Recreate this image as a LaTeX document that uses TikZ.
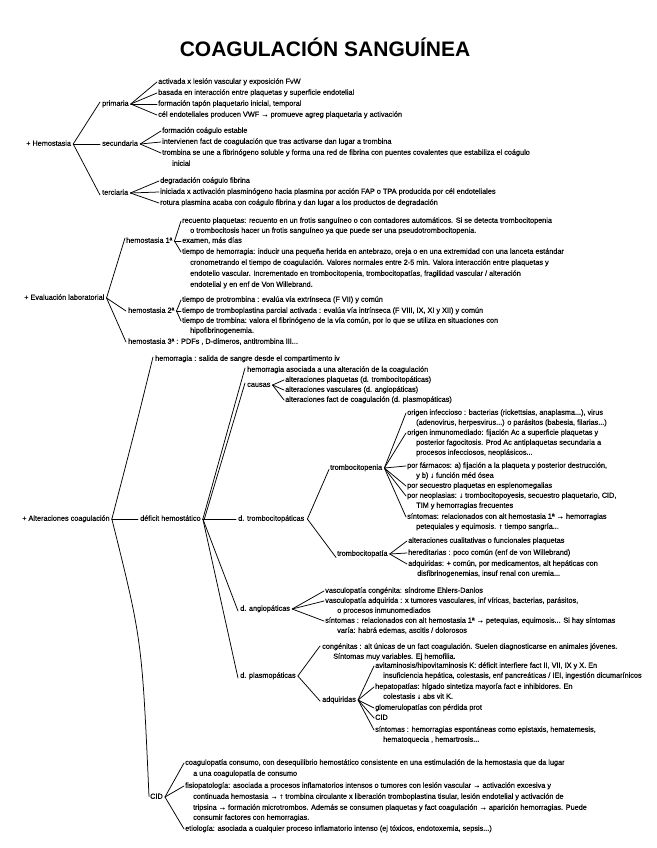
\documentclass[tikz,border=0pt]{standalone}
\usepackage{fontspec}
\setmainfont{Liberation Sans}
\newfontfamily\hw{Liberation Sans}[FakeBold=0.35]
\newcommand{\fs}{\hw\fontsize{7.3}{8.5}\selectfont}
\tikzset{
  tx/.style={anchor=west, inner sep=0pt, font=\fs, text height=5pt, text depth=1.5pt},
  ln/.style={line width=0.75pt, line cap=round},
}
\begin{document}
\begin{tikzpicture}[x=1pt,y=-1pt]
\useasboundingbox (0,0) rectangle (656,848);
\fill[white] (0,0) rectangle (656,848);
\node[font=\fontsize{21}{24}\selectfont\bfseries] (title) at (325,47) {COAGULACIÓN SANGUÍNEA};

% ---------------- Hemostasia
\node[tx] (hem) at (26,144) {+ Hemostasia};
\node[tx] (pri) at (102,104) {primaria};
\node[tx] (sec) at (102,144) {secundaria};
\node[tx] (ter) at (102,193) {terciaria};
\coordinate (vhem) at ([xshift=2pt]hem.east);
\draw[ln] (vhem) -- ([xshift=-2pt,yshift=2pt]pri.west);
\draw[ln] (vhem) -- ([xshift=-2pt]sec.west);
\draw[ln] (vhem) -- ([xshift=-2pt,yshift=-2pt]ter.west);

\node[tx] (p1) at (158,82) {activada x lesión vascular y exposición FvW};
\node[tx] (p2) at (158,93) {basada en interacción entre plaquetas y superficie endotelial};
\node[tx] (p3) at (158,104) {formación tapón plaquetario inicial, temporal};
\node[tx] (p4) at (158,115) {cél endoteliales producen VWF → promueve agreg plaquetaria y activación};
\coordinate (vpri) at ([xshift=2pt]pri.east);
\foreach \n in {p1,p2,p3,p4} \draw[ln] (vpri) -- ([xshift=-1pt]\n.west);

\node[tx] (s1) at (162,131) {formación coágulo estable};
\node[tx] (s2) at (162,142) {intervienen fact de coagulación que tras activarse dan lugar a trombina};
\node[tx] (s3) at (162,153) {trombina se une a fibrinógeno soluble y forma una red de fibrina con puentes covalentes que estabiliza el coágulo};
\node[tx] (s4) at (172,164) {inicial};
\coordinate (vsec) at ([xshift=2pt]sec.east);
\foreach \n in {s1,s2,s3} \draw[ln] (vsec) -- ([xshift=-1pt]\n.west);

\node[tx] (t1) at (160,181) {degradación coágulo fibrina};
\node[tx] (t2) at (160,192) {iniciada x activación plasminógeno hacia plasmina por acción FAP o TPA producida por cél endoteliales};
\node[tx] (t3) at (160,203) {rotura plasmina acaba con coágulo fibrina y dan lugar a los productos de degradación};
\coordinate (vter) at ([xshift=2pt]ter.east);
\foreach \n in {t1,t2,t3} \draw[ln] (vter) -- ([xshift=-1pt]\n.west);

% ---------------- Evaluación laboratorial
\node[tx] (eva) at (24,298) {+ Evaluación laboratorial};
\node[tx] (he1) at (126,241) {hemostasia 1ª};
\node[tx] (he2) at (128,311) {hemostasia 2ª};
\node[tx] (he3) at (128,342) {hemostasia 3ª : PDFs , D-dímeros, antitrombina III...};
\coordinate (veva) at ([xshift=2pt]eva.east);
\draw[ln] (veva) -- ([xshift=-1pt,yshift=3pt]he1.west);
\draw[ln] (veva) -- ([xshift=-2pt]he2.west);
\draw[ln] (veva) -- ([xshift=-2pt]he3.west);

\node[tx] (e1) at (182,221) {recuento plaquetas: recuento en un frotis sanguíneo o con contadores automáticos. Si se detecta trombocitopenia};
\node[tx] (e1b) at (190,231) {o trombocitosis hacer un frotis sanguíneo ya que puede ser una pseudotrombocitopenia.};
\node[tx] (e2) at (182,241) {examen, más días};
\node[tx] (e3) at (182,252) {tiempo de hemorragia: inducir una pequeña herida en antebrazo, oreja o en una extremidad con una lanceta estándar};
\node[tx] (e3b) at (190,263) {cronometrando el tiempo de coagulación. Valores normales entre 2-5 min. Valora interacción entre plaquetas y};
\node[tx] (e3c) at (190,274) {endotelio vascular. Incrementado en trombocitopenia, trombocitopatías, fragilidad vascular / alteración};
\node[tx] (e3d) at (190,285) {endotelial y en enf de Von Willebrand.};
\coordinate (vhe1) at ([xshift=2pt]he1.east);
\foreach \n in {e1,e2,e3} \draw[ln] (vhe1) -- ([xshift=-1pt]\n.west);

\node[tx] (f1) at (182,300) {tiempo de protrombina : evalúa vía extrínseca (F VII) y común};
\node[tx] (f2) at (182,311) {tiempo de tromboplastina parcial activada : evalúa vía intrínseca (F VIII, IX, XI y XII) y común};
\node[tx] (f3) at (182,321) {tiempo de trombina: valora el fibrinógeno de la vía común, por lo que se utiliza en situaciones con};
\node[tx] (f3b) at (190,331) {hipofibrinogenemia.};
\coordinate (vhe2) at ([xshift=2pt]he2.east);
\foreach \n in {f1,f2,f3} \draw[ln] (vhe2) -- ([xshift=-1pt]\n.west);

% ---------------- Alteraciones coagulación
\node[tx] (alt) at (22,519) {+ Alteraciones coagulación};
\node[tx] (hemo) at (155,359) {hemorragia : salida de sangre desde el compartimento iv};
\node[tx] (def) at (140,519) {déficit hemostático};
\node[tx] (cid) at (150,797) {CID};
\coordinate (valt) at ([xshift=2pt]alt.east);
\draw[ln] (valt) .. controls (135,430) .. ([xshift=-2pt,yshift=2pt]hemo.west);
\draw[ln] (valt) -- ([xshift=-2pt]def.west);
\draw[ln] (valt) .. controls (142,640) .. ([xshift=-1pt,yshift=-3pt]cid.north west);

\node[tx] (ha) at (247,370) {hemorragia asociada a una alteración de la coagulación};
\node[tx] (cau) at (247,385) {causas};
\node[tx] (dtr) at (238,519) {d. trombocitopáticas};
\node[tx] (dan) at (240,609) {d. angiopáticas};
\node[tx] (dpl) at (240,676) {d. plasmopáticas};
\coordinate (vdef) at ([xshift=2pt]def.east);
\draw[ln] (vdef) -- ([xshift=-2pt,yshift=2pt]ha.west);
\draw[ln] ([xshift=1.5pt]vdef) -- ([xshift=-2pt,yshift=2pt]cau.west);
\draw[ln] (vdef) -- ([xshift=-2pt]dtr.west);
\draw[ln] (vdef) -- ([xshift=-2pt,yshift=-2pt]dan.west);
\draw[ln] (vdef) -- ([xshift=-2pt,yshift=-2pt]dpl.west);

\node[tx] (c1) at (285,380) {alteraciones plaquetas (d. trombocitopáticas)};
\node[tx] (c2) at (285,390) {alteraciones vasculares (d. angiopáticas)};
\node[tx] (c3) at (285,400) {alteraciones fact de coagulación (d. plasmopáticas)};
\coordinate (vcau) at ([xshift=2pt]cau.east);
\foreach \n in {c1,c2,c3} \draw[ln] (vcau) -- ([xshift=-1pt]\n.west);

\node[tx] (tpe) at (330,468) {trombocitopenia};
\node[tx] (tpa) at (337,554) {trombocitopatía};
\coordinate (vdtr) at ([xshift=3pt]dtr.east);
\draw[ln] (vdtr) -- ([xshift=-1pt,yshift=2pt]tpe.south west);
\draw[ln] (vdtr) -- ([xshift=-1pt]tpa.south west);

\node[tx] (g1) at (407,413) {origen infeccioso : bacterias (rickettsias, anaplasma...), virus};
\node[tx] (g1b) at (416,423) {(adenovirus, herpesvirus...) o parásitos (babesia, filarias...)};
\node[tx] (g2) at (407,433) {origen inmunomediado: fijación Ac a superficie plaquetas y};
\node[tx] (g2b) at (416,443) {posterior fagocitosis. Prod Ac antiplaquetas secundaria a};
\node[tx] (g2c) at (416,453) {procesos infecciosos, neoplásicos...};
\node[tx] (g3) at (407,466) {por fármacos: a) fijación a la plaqueta y posterior destrucción,};
\node[tx] (g3b) at (416,476) {y b) ↓ función méd ósea};
\node[tx] (g4) at (407,486) {por secuestro plaquetas en esplenomegalias};
\node[tx] (g5) at (407,496) {por neoplasias: ↓ trombocitopoyesis, secuestro plaquetario, CID,};
\node[tx] (g5b) at (416,506) {TIM y hemorragias frecuentes};
\node[tx] (g6) at (407,517) {síntomas: relacionados con alt hemostasia 1ª → hemorragias};
\node[tx] (g6b) at (416,527) {petequiales y equimosis. ↑ tiempo sangría...};
\coordinate (vtpe) at ([xshift=2pt]tpe.east);
\foreach \n in {g1,g2,g3,g4,g5,g6} \draw[ln] (vtpe) -- ([xshift=-1pt]\n.west);

\node[tx] (k1) at (408,541) {alteraciones cualitativas o funcionales plaquetas};
\node[tx] (k2) at (408,553) {hereditarias : poco común (enf de von Willebrand)};
\node[tx] (k3) at (408,564) {adquiridas: + común, por medicamentos, alt hepáticas con};
\node[tx] (k3b) at (417,574) {disfibrinogenemias, insuf renal con uremia...};
\coordinate (vtpa) at ([xshift=2pt]tpa.east);
\foreach \n in {k1,k2,k3} \draw[ln] (vtpa) -- ([xshift=-1pt]\n.west);

\node[tx] (a1) at (325,591) {vasculopatía congénita: síndrome Ehlers-Danlos};
\node[tx] (a2) at (325,601) {vasculopatía adquirida : x tumores vasculares, inf víricas, bacterias, parásitos,};
\node[tx] (a2b) at (337,611) {o procesos inmunomediados};
\node[tx] (a3) at (325,621) {síntomas : relacionados con alt hemostasia 1ª → petequias, equimosis... Si hay síntomas};
\node[tx] (a3b) at (337,631) {varía: habrá edemas, ascitis / dolorosos};
\coordinate (vdan) at ([xshift=2pt]dan.east);
\foreach \n in {a1,a2,a3} \draw[ln] (vdan) -- ([xshift=-1pt]\n.west);

\node[tx] (q1) at (322,647) {congénitas : alt únicas de un fact coagulación. Suelen diagnosticarse en animales jóvenes.};
\node[tx] (q1b) at (333,657) {Síntomas muy variables. Ej hemofilia.};
\node[tx] (adq) at (322,700) {adquiridas};
\coordinate (vdpl) at ([xshift=2pt]dpl.east);
\draw[ln] (vdpl) -- ([xshift=-2pt,yshift=1pt]q1.west);
\draw[ln] (vdpl) -- ([xshift=-2pt,yshift=-1pt]adq.west);

\node[tx] (m1) at (375,666) {avitaminosis/hipovitaminosis K: déficit interfiere fact II, VII, IX y X. En};
\node[tx] (m1b) at (383,676) {insuficiencia hepática, colestasis, enf pancreáticas / IEI, ingestión dicumarínicos};
\node[tx] (m2) at (375,687) {hepatopatías: hígado sintetiza mayoría fact e inhibidores. En};
\node[tx] (m2b) at (383,697) {colestasis ↓ abs vit K.};
\node[tx] (m3) at (375,708) {glomerulopatías con pérdida prot};
\node[tx] (m4) at (375,718) {CID};
\node[tx] (m5) at (375,730) {síntomas : hemorragias espontáneas como epistaxis, hematemesis,};
\node[tx] (m5b) at (383,740) {hematoquecia , hemartrosis...};
\coordinate (vadq) at ([xshift=2pt]adq.east);
\foreach \n in {m1,m2,m3,m4,m5} \draw[ln] (vadq) -- ([xshift=-1pt]\n.west);

% ---------------- CID
\node[tx] (d1) at (185,763) {coagulopatía consumo, con desequilibrio hemostático consistente en una estimulación de la hemostasia que da lugar};
\node[tx] (d1b) at (193,774) {a una coagulopatía de consumo};
\node[tx] (d2) at (185,786) {fisiopatología: asociada a procesos inflamatorios intensos o tumores con lesión vascular → activación excesiva y};
\node[tx] (d2b) at (193,797) {continuada hemostasia → ↑ trombina circulante x liberación tromboplastina tisular, lesión endotelial y activación de};
\node[tx] (d2c) at (193,808) {tripsina → formación microtrombos. Además se consumen plaquetas y fact coagulación → aparición hemorragias. Puede};
\node[tx] (d2d) at (193,818) {consumir factores con hemorragias.};
\node[tx] (d3) at (185,829) {etiología: asociada a cualquier proceso inflamatorio intenso (ej tóxicos, endotoxemia, sepsis...)};
\coordinate (vcid) at ([xshift=2pt]cid.east);
\foreach \n in {d1,d2,d3} \draw[ln] (vcid) -- ([xshift=-1pt]\n.west);
\end{tikzpicture}
\end{document}
